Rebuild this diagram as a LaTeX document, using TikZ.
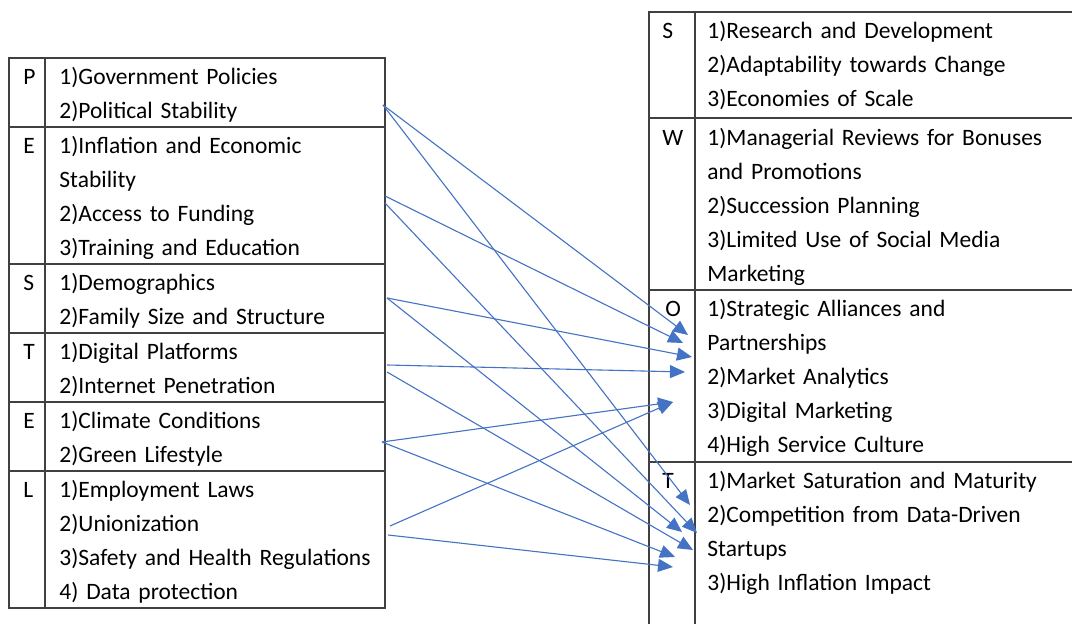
\documentclass[tikz,border=0pt]{standalone}
\usepackage{fontspec}
\setmainfont{Carlito}
\usepackage{xcolor}
\usepackage{tikz}
\usetikzlibrary{arrows.meta}
\definecolor{arrowblue}{RGB}{68,114,196}

\begin{document}
\begin{tikzpicture}[x=0.5pt, y=-0.5pt,
		tabline/.style={draw=black!75, line width=0.75pt},
		cell/.style={anchor=base west, inner sep=0pt, align=left, text width=185pt, font=\fontsize{11.75}{17}\selectfont},
		letter/.style={anchor=base west, inner sep=0pt, font=\fontsize{11.75}{17}\selectfont},
		link/.style={draw=arrowblue, line width=0.55pt, -{Triangle[length=7.5pt, width=6.5pt]}}]
		\fill[white] (0,0) rectangle (1072,624);
		\useasboundingbox (0,0) rectangle (1072,624);
		% PESTEL table
		\draw[tabline] (9,58) rectangle (385,608);
		\draw[tabline] (45,58) -- (45,608);
		\foreach \y in {127, 264, 333, 402, 471} {
		  \draw[tabline] (9,\y) -- (385,\y);
		}
		\node[letter] (p-lbl) at (23,84.5) {P};
		\node[cell] (p-txt) at (59,84.5) {1)Government Policies\\2)Political Stability};
		\node[letter] (ec-lbl) at (23,153.5) {E};
		\node[cell] (ec-txt) at (59,153.5) {1)Inflation and Economic\\Stability\\2)Access to Funding\\3)Training and Education};
		\node[letter] (so-lbl) at (23,290.5) {S};
		\node[cell] (so-txt) at (59,290.5) {1)Demographics\\2)Family Size and Structure};
		\node[letter] (te-lbl) at (23,359.5) {T};
		\node[cell] (te-txt) at (59,359.5) {1)Digital Platforms\\2)Internet Penetration};
		\node[letter] (en-lbl) at (23,428.5) {E};
		\node[cell] (en-txt) at (59,428.5) {1)Climate Conditions\\2)Green Lifestyle};
		\node[letter] (le-lbl) at (23,497.5) {L};
		\node[cell] (le-txt) at (59,497.5) {1)Employment Laws\\2)Unionization\\3)Safety and Health Regulations\\4) Data protection};
		% SWOT table
		\draw[tabline] (649,624) -- (649,12) -- (1072,12);
		\draw[tabline] (695,12) -- (695,624);
		\foreach \y in {118, 290, 462} {
		  \draw[tabline] (649,\y) -- (1072,\y);
		}
		\node[letter] (s-lbl) at (662,38.5) {S};
		\node[cell] (s-txt) at (707,38.5) {1)Research and Development\\2)Adaptability towards Change\\3)Economies of Scale};
		\node[letter] (w-lbl) at (662,146) {W};
		\node[cell] (w-txt) at (707,146) {1)Managerial Reviews for Bonuses\\and Promotions\\2)Succession Planning\\3)Limited Use of Social Media\\Marketing};
		\node[letter] (o-lbl) at (665,316.5) {O};
		\node[cell] (o-txt) at (707,316.5) {1)Strategic Alliances and\\Partnerships\\2)Market Analytics\\3)Digital Marketing\\4)High Service Culture};
		\node[letter] (t-lbl) at (662,488.5) {T};
		\node[cell] (t-txt) at (707,488.5) {1)Market Saturation and Maturity\\2)Competition from Data-Driven\\Startups\\3)High Inflation Impact};
		% arrow ends
		\coordinate (pol) at (383,105);
		\coordinate (eco1) at (385,196);
		\coordinate (eco2) at (385,203);
		\coordinate (soc) at (387,298);
		\coordinate (tec1) at (387,365);
		\coordinate (tec2) at (387,372);
		\coordinate (env) at (382,442);
		\coordinate (leg1) at (390,526);
		\coordinate (leg2) at (388,535);
		\coordinate (o1) at (688,335);
		\coordinate (o2) at (683,343);
		\coordinate (o3) at (692,357);
		\coordinate (o4) at (685,372);
		\coordinate (o5) at (673,402);
		\coordinate (t1) at (690,505);
		\coordinate (t2) at (682,532);
		\coordinate (t3) at (697,533);
		\coordinate (t4) at (693,550);
		\coordinate (t5) at (675,557);
		\coordinate (t6) at (673,567);
		\draw[link] (pol) -- (o1);
		\draw[link] (pol) -- (t1);
		\draw[link] (eco1) -- (o2);
		\draw[link] (eco2) -- (t3);
		\draw[link] (soc) -- (o3);
		\draw[link] (soc) -- (t2);
		\draw[link] (tec1) -- (o4);
		\draw[link] (tec2) -- (t4);
		\draw[link] (env) -- (o5);
		\draw[link] (env) -- (t5);
		\draw[link] (leg1) -- (o5);
		\draw[link] (leg2) -- (t6);
	\end{tikzpicture}
\end{document}
